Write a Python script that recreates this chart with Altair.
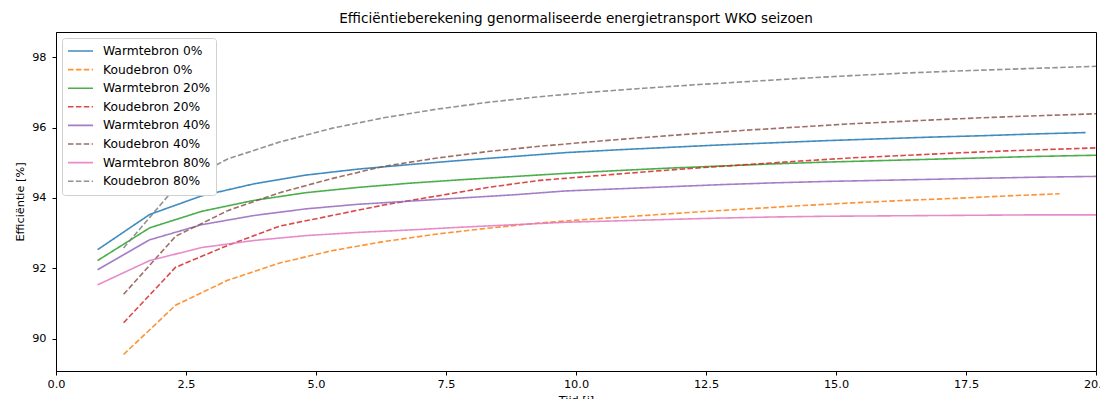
import altair as alt
import pandas as pd

# Tijd [j]
x_warm = [0.8, 1.8, 2.8, 3.8, 4.8, 5.8, 6.8, 7.8, 8.8, 9.8, 10.8, 11.8, 12.8, 13.8, 14.8, 15.8, 16.8, 17.8, 18.8, 19.8, 20.8]
x_koud = [1.3, 2.3, 3.3, 4.3, 5.3, 6.3, 7.3, 8.3, 9.3, 10.3, 11.3, 12.3, 13.3, 14.3, 15.3, 16.3, 17.3, 18.3, 19.3, 20.3]

warm_0 = [92.53, 93.53, 94.06, 94.40, 94.65, 94.82, 94.95, 95.07, 95.18, 95.29, 95.37, 95.44, 95.51, 95.57, 95.63, 95.68, 95.73, 95.77, 95.82, 95.86]
koud_0 = [89.55, 90.95, 91.66, 92.15, 92.50, 92.76, 92.97, 93.14, 93.29, 93.40, 93.50, 93.60, 93.69, 93.78, 93.86, 93.93, 93.99, 94.06, 94.12]
warm_20 = [92.22, 93.15, 93.62, 93.93, 94.15, 94.30, 94.42, 94.52, 94.61, 94.70, 94.78, 94.85, 94.91, 94.97, 95.02, 95.06, 95.10, 95.14, 95.18, 95.21, 95.24]
koud_20 = [90.45, 92.03, 92.65, 93.20, 93.50, 93.80, 94.05, 94.30, 94.50, 94.62, 94.74, 94.85, 94.95, 95.05, 95.14, 95.21, 95.28, 95.34, 95.39, 95.44]
warm_40 = [91.96, 92.81, 93.24, 93.50, 93.69, 93.82, 93.91, 94.00, 94.09, 94.20, 94.26, 94.32, 94.38, 94.43, 94.47, 94.50, 94.53, 94.56, 94.59, 94.61, 94.63]
koud_40 = [91.26, 92.91, 93.64, 94.15, 94.55, 94.90, 95.13, 95.32, 95.47, 95.60, 95.72, 95.83, 95.93, 96.02, 96.11, 96.18, 96.25, 96.31, 96.36, 96.41]
warm_80 = [91.53, 92.22, 92.59, 92.79, 92.93, 93.02, 93.09, 93.17, 93.24, 93.31, 93.35, 93.39, 93.43, 93.46, 93.48, 93.49, 93.50, 93.51, 93.52, 93.52, 93.52]
koud_80 = [92.58, 94.31, 95.11, 95.59, 95.98, 96.28, 96.52, 96.72, 96.88, 97.01, 97.12, 97.22, 97.31, 97.40, 97.48, 97.55, 97.61, 97.66, 97.71, 97.76]

series_names = ["Warmtebron 0%", "Koudebron 0%", "Warmtebron 20%", "Koudebron 20%",
                "Warmtebron 40%", "Koudebron 40%", "Warmtebron 80%", "Koudebron 80%"]
series_values = [warm_0, koud_0, warm_20, koud_20, warm_40, koud_40, warm_80, koud_80]
series_x = [x_warm, x_koud, x_warm, x_koud, x_warm, x_koud, x_warm, x_koud]
colors = ["#1f77b4", "#ff7f0e", "#2ca02c", "#d62728", "#9467bd", "#8c564b", "#e377c2", "#7f7f7f"]
dashes = [[1, 0], [5.5, 2.4]] * 4

x_ticks = [0, 2.5, 5, 7.5, 10, 12.5, 15, 17.5, 20]
y_ticks = [90, 92, 94, 96, 98]

rows = []
for name, xs, ys in zip(series_names, series_x, series_values):
    for i, (xv, yv) in enumerate(zip(xs, ys)):
        rows.append({"serie": name, "tijd": xv, "eff": yv, "idx": i})
df = pd.DataFrame(rows)

FONT = "DejaVu Sans"
FS = 11.3

chart = alt.Chart(df).mark_line(strokeWidth=1.6, clip=True, opacity=0.85).encode(
    x=alt.X("tijd:Q", title="Tijd [j]",
            scale=alt.Scale(domain=[0, 20], nice=False, zero=False),
            axis=alt.Axis(values=x_ticks, format=".1f", grid=False, tickSize=4,
                          labelPadding=3, titlePadding=5, labelFlush=False)),
    y=alt.Y("eff:Q", title="Efficiëntie [%]",
            scale=alt.Scale(domain=[89.08, 98.72], nice=False, zero=False),
            axis=alt.Axis(values=y_ticks, format="d", grid=False, tickSize=4,
                          labelPadding=6, titlePadding=6)),
    color=alt.Color("serie:N", title=None,
                    scale=alt.Scale(domain=series_names, range=colors),
                    legend=alt.Legend(orient="none", legendX=6, legendY=6,
                                      symbolType="stroke", symbolSize=625,
                                      symbolStrokeWidth=1.6, clipHeight=16,
                                      rowPadding=2.6, labelFontSize=12.3, labelFont=FONT,
                                      labelColor="#000", fillColor="white",
                                      strokeColor="#d0d0d0", cornerRadius=3,
                                      padding=5, labelOffset=9, symbolOpacity=0.85)),
    strokeDash=alt.StrokeDash("serie:N", title=None,
                              scale=alt.Scale(domain=series_names, range=dashes)),
    order="idx:Q",
).properties(
    width=1040, height=339,
    title=alt.TitleParams("Efficiëntieberekening genormaliseerde energietransport WKO seizoen",
                          fontSize=13.6, font=FONT, fontWeight="normal", color="#000",
                          anchor="middle", offset=6),
    autosize=alt.AutoSizeParams(type="none"),
    padding={"left": 48, "top": 24, "right": 4, "bottom": 28},
).configure_view(
    stroke="#000", strokeWidth=1
).configure_axis(
    labelFont=FONT, titleFont=FONT, labelFontSize=FS, titleFontSize=FS,
    labelColor="#000", titleColor="#000", titleFontWeight="normal",
    domainColor="#000", tickColor="#000"
)

chart.save("out.html", embed_options={"renderer": "svg", "actions": False})
